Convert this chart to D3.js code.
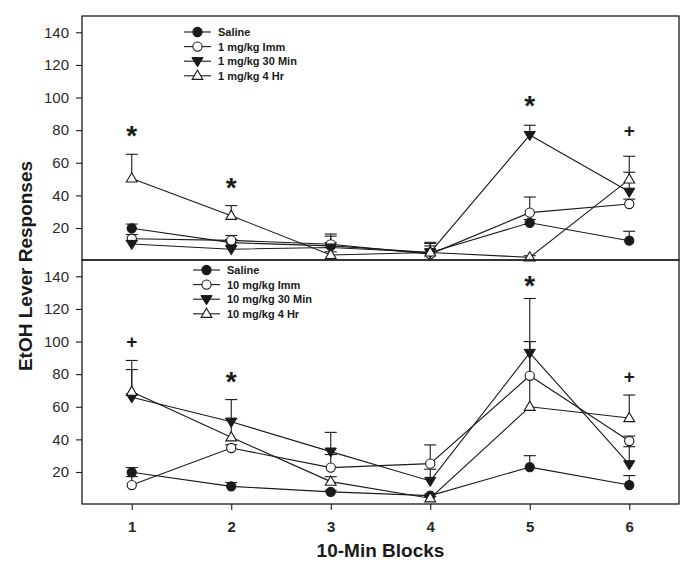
<!DOCTYPE html>
<html><head><meta charset="utf-8">
<script src="https://cdn.jsdelivr.net/npm/d3@7"></script>
<style>body{margin:0;background:#fff}svg{display:block}</style>
</head><body>
<svg id="c" width="695" height="573"></svg>
<script>
// ---- data ----
const blocks = [1, 2, 3, 4, 5, 6];
const yTicks = [20, 40, 60, 80, 100, 120, 140];

const topNames = ["Saline", "1 mg/kg Imm", "1 mg/kg 30 Min", "1 mg/kg 4 Hr"];
const topSaline = [19.8, 11, 9, 5, 23.2, 12.2];
const topSalineErr = [2.6, 2, 6, 2, 2, 5.8];
const topImm = [13.4, 12.4, 10, 4, 29.4, 34.7];
const topImmErr = [2.6, 3, 6.3, 6.5, 9.6, 3];
const top30 = [10.2, 7, 8, 5, 77, 42.2];
const top30Err = [2, 2, 3, 6.2, 6, 12];
const top4h = [50.4, 27.5, 3.4, 5, 2, 49.8];
const top4hErr = [14.8, 6.2, 2, 4, 1, 14.2];
const topMarks = [[1, "*", 81], [2, "*", 49], [5, "*", 99], [6, "+", 79.5]];

const botNames = ["Saline", "10 mg/kg Imm", "10 mg/kg 30 Min", "10 mg/kg 4 Hr"];
const botSaline = [19.8, 11.2, 7.8, 5.5, 23, 12];
const botSalineErr = [2.9, 2.3, 1, 1, 7, 5.8];
const botImm = [12, 34.7, 22.7, 25.1, 79, 39];
const botImmErr = [5.2, 2, 8, 11.5, 21, 3];
const bot30 = [65.8, 50.8, 32.5, 14.5, 93, 24.7];
const bot30Err = [17, 13.6, 11.8, 7.2, 33.4, 10.8];
const bot4h = [69.2, 41.3, 14.1, 3.9, 60, 53.1];
const bot4hErr = [19.2, 11.5, 3, 1, 40, 14.1];
const botMarks = [[1, "+", 99.8], [2, "*", 79.4], [5, "*", 138.2], [6, "+", 78.4]];

const markerTypes = ["filledCircle", "openCircle", "filledDown", "openUp"];

// ---- layout ----
const svg = d3.select("#c");
svg.append("rect").attr("width", 695).attr("height", 573).attr("fill", "#fff");
const L = 82, R = 679;
const x = d3.scaleLinear().domain([0.5, 6.5]).range([L, R]);
const ink = "#1a1a1a";
const font = "'Liberation Sans', Arial, Helvetica, sans-serif";

function marker(g, type, cx, cy) {
  if (type === "filledCircle" || type === "openCircle") {
    g.append("circle").attr("cx", cx).attr("cy", cy).attr("r", 4.6)
      .attr("fill", type === "filledCircle" ? ink : "#fff")
      .attr("stroke", ink).attr("stroke-width", 1.1);
  } else if (type === "filledDown") {
    g.append("path").attr("d", `M${cx - 5.6},${cy - 3.6}L${cx + 5.6},${cy - 3.6}L${cx},${cy + 5.6}Z`)
      .attr("fill", ink).attr("stroke", ink).attr("stroke-width", 1);
  } else {
    g.append("path").attr("d", `M${cx},${cy - 5.6}L${cx + 5.4},${cy + 3.6}L${cx - 5.4},${cy + 3.6}Z`)
      .attr("fill", "#fff").attr("stroke", ink).attr("stroke-width", 1.1);
  }
}

function panel(y0, y1, series, errs, names, marks, legend) {
  const y = d3.scaleLinear().domain([0, 150]).range([y1 + 0.6, y0]);
  const g = svg.append("g");
  // lines
  const line = d3.line().x((d, i) => x(blocks[i])).y(d => y(d));
  series.forEach(s => {
    g.append("path").attr("d", line(s)).attr("fill", "none")
      .attr("stroke", ink).attr("stroke-width", 1.1);
  });
  // error bars
  series.forEach((s, k) => {
    s.forEach((v, i) => {
      const cx = x(blocks[i]), ya = y(v), yb = y(v + errs[k][i]);
      g.append("line").attr("x1", cx).attr("x2", cx).attr("y1", ya).attr("y2", yb)
        .attr("stroke", ink).attr("stroke-width", 1.1);
      g.append("line").attr("x1", cx - 6).attr("x2", cx + 6).attr("y1", yb).attr("y2", yb)
        .attr("stroke", ink).attr("stroke-width", 1.1);
    });
  });
  // markers
  series.forEach((s, k) => {
    s.forEach((v, i) => marker(g, markerTypes[k], x(blocks[i]), y(v)));
  });
  // significance marks
  marks.forEach(([b, sym, v]) => {
    const isStar = sym === "*";
    g.append("text").attr("x", x(b)).attr("y", y(v) + (isStar ? 16 : 6.5))
      .attr("text-anchor", "middle").attr("font-family", font).attr("font-weight", "bold")
      .attr("font-size", isStar ? 28 : 19).attr("fill", ink).text(sym);
  });
  // y axis
  const ax = d3.axisLeft(y).tickValues(yTicks).tickSize(6).tickPadding(7);
  const ag = svg.append("g").attr("transform", `translate(${L},0)`).call(ax);
  ag.select(".domain").remove();
  ag.selectAll("line").attr("stroke", ink).attr("stroke-width", 1.1);
  ag.selectAll("text").attr("font-family", font).attr("font-size", 15).attr("fill", "#2a2a2a");
  // frame
  svg.append("rect").attr("x", L).attr("y", y0).attr("width", R - L).attr("height", y1 - y0)
    .attr("fill", "none").attr("stroke", ink).attr("stroke-width", 1.3);
  // legend
  names.forEach((n, k) => {
    const ry = legend.y + k * 14.6;
    svg.append("line").attr("x1", legend.x).attr("x2", legend.x + 27).attr("y1", ry).attr("y2", ry)
      .attr("stroke", ink).attr("stroke-width", 1.1);
    marker(svg, markerTypes[k], legend.x + 13.5, ry);
    svg.append("text").attr("x", legend.x + 34).attr("y", ry + 4)
      .attr("font-family", font).attr("font-weight", "bold").attr("font-size", 11)
      .attr("fill", ink).text(n);
  });
}

panel(16, 260, [topSaline, topImm, top30, top4h], [topSalineErr, topImmErr, top30Err, top4hErr],
  topNames, topMarks, {x: 184, y: 32});
panel(260, 504, [botSaline, botImm, bot30, bot4h], [botSalineErr, botImmErr, bot30Err, bot4hErr],
  botNames, botMarks, {x: 193, y: 270});

// x axis
const xa = d3.axisBottom(x).tickValues(blocks).tickSize(6).tickPadding(11).tickFormat(d3.format("d"));
const xg = svg.append("g").attr("transform", "translate(0,504)").call(xa);
xg.select(".domain").remove();
xg.selectAll("line").attr("stroke", ink).attr("stroke-width", 1.1);
xg.selectAll("text").attr("font-family", font).attr("font-size", 15).attr("font-weight", "bold").attr("fill", "#2a2a2a");

// axis titles
svg.append("text").attr("x", 380.5).attr("y", 557).attr("text-anchor", "middle")
  .attr("font-family", font).attr("font-weight", "bold").attr("font-size", 19).attr("fill", ink)
  .text("10-Min Blocks");
svg.append("text").attr("transform", "translate(32,266) rotate(-90)").attr("text-anchor", "middle")
  .attr("font-family", font).attr("font-weight", "bold").attr("font-size", 19).attr("fill", ink)
  .text("EtOH Lever Responses");
</script>
</body></html>
